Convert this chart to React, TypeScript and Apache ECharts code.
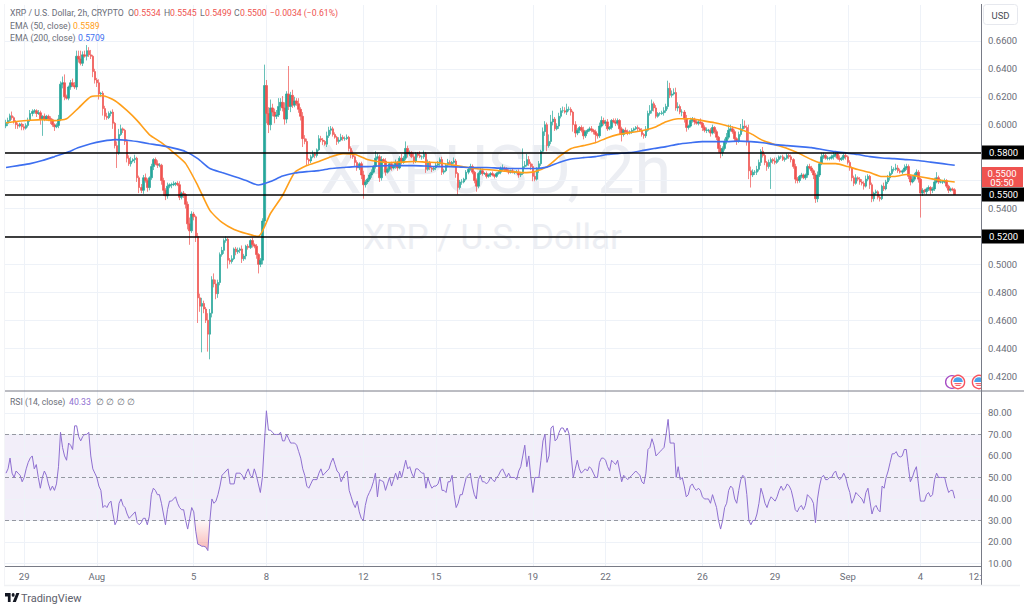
import React, { useEffect, useRef } from "react";
import * as echarts from "echarts";

// Prices are stored in units of 0.0001 USD, one row per day (12 two-hour candles).
const closes = [
  6010,6030,6064,6050,6020,6000,5990,6005,5985,5975,5995,6030,
  6080,6095,6100,6080,6085,6040,6060,6040,6060,6045,6035,6000,
  5985,5995,6040,6290,6300,6200,6190,6270,6300,6280,6270,6490,
  6470,6440,6500,6490,6530,6500,6490,6380,6320,6300,6220,6225,
  6115,6060,6050,6080,6090,6010,5850,5800,5930,5970,5960,5880,
  5760,5720,5740,5750,5760,5620,5550,5530,5620,5600,5550,5620,
  5700,5750,5720,5710,5710,5600,5530,5490,5560,5570,5570,5575,
  5580,5570,5480,5510,5500,5430,5290,5240,5360,5340,5200,4760,
  4700,4720,4680,4600,4500,4650,4890,4860,4790,4870,5070,5100,
  5170,5180,5030,5020,5040,5110,5090,5100,5110,5040,5060,5130,
  5120,5170,5140,5130,5070,5000,5030,5310,6280,6080,6000,6120,
  6090,6060,6070,6130,6160,6120,6040,6220,6130,6210,6140,6170,
  6150,6110,6060,5900,5880,5750,5740,5770,5790,5780,5820,5900,
  5890,5880,5860,5920,5960,5970,5930,5910,5880,5890,5910,5900,
  5900,5910,5830,5790,5770,5730,5690,5720,5640,5570,5590,5610,
  5640,5660,5700,5760,5770,5620,5750,5740,5660,5680,5720,5690,
  5700,5730,5690,5760,5730,5760,5830,5790,5800,5770,5740,5790,
  5780,5770,5770,5790,5680,5730,5690,5680,5690,5710,5720,5750,
  5660,5670,5710,5730,5720,5730,5740,5650,5550,5590,5590,5610,
  5660,5680,5700,5660,5600,5560,5650,5670,5650,5650,5630,5640,
  5650,5640,5630,5650,5660,5680,5690,5680,5670,5660,5670,5660,
  5660,5660,5640,5650,5700,5710,5750,5720,5700,5630,5610,5680,
  5720,5810,5950,6000,5850,5880,6020,6040,5970,5990,6060,6100,
  6100,6090,6110,6110,6090,6000,5940,5960,5980,5960,5920,5950,
  5960,5970,5960,5950,5930,5920,5990,6030,6010,6020,5970,5980,
  6030,6020,6010,6030,5970,5930,5960,5950,5940,5950,5960,5970,
  5980,5970,5960,5930,5920,5960,6080,6100,6150,6120,6060,6080,
  6080,6085,6100,6130,6260,6210,6220,6230,6120,6130,6090,6090,
  6040,5980,5990,6030,6040,6020,6010,6020,6010,5980,5960,5960,
  5960,5940,5980,5950,5910,5830,5800,5830,5880,5910,5960,5970,
  5950,5900,5880,5930,5970,5990,5980,5880,5670,5640,5660,5660,
  5680,5730,5810,5780,5730,5700,5730,5750,5740,5730,5750,5770,
  5770,5750,5760,5780,5770,5750,5700,5610,5600,5630,5640,5620,
  5640,5700,5690,5670,5640,5470,5640,5720,5770,5780,5760,5760,
  5760,5770,5780,5790,5760,5750,5760,5780,5770,5730,5690,5620,
  5580,5620,5610,5590,5580,5560,5610,5630,5570,5470,5510,5520,
  5480,5470,5560,5540,5590,5620,5650,5680,5680,5690,5670,5660,
  5670,5690,5700,5630,5590,5610,5640,5660,5610,5510,5530,5520,
  5540,5550,5530,5540,5590,5620,5590,5590,5590,5600,5560,5530,
  5540,5534,5500,
];

const firstOpen = 5990;

// Wick length above the candle body, same units and rows.
const upperWicks = [
  25,20,15,30,10,12,15,8,10,20,15,20,
  25,15,12,10,20,15,8,20,10,12,15,8,
  10,15,30,20,45,60,15,10,20,30,25,40,
  40,60,25,30,40,25,35,10,20,15,25,10,
  15,20,25,15,10,20,10,30,40,30,10,10,
  15,20,30,10,25,10,15,25,20,30,15,10,
  20,10,15,25,15,10,20,15,25,10,15,20,
  10,15,25,10,15,10,20,45,20,15,10,25,
  30,40,20,15,50,30,25,45,30,20,15,25,
  15,20,10,15,25,10,15,20,10,25,15,10,
  15,10,20,10,15,10,15,20,150,40,45,60,
  30,25,35,60,30,45,40,20,200,25,40,30,
  20,40,15,30,25,20,10,15,25,15,10,25,
  20,15,10,30,25,20,15,15,10,20,25,15,
  15,20,10,15,25,10,15,10,15,30,15,10,
  15,20,10,50,25,15,25,10,20,15,10,15,
  15,20,10,15,30,15,50,20,15,10,30,15,
  15,30,10,25,15,20,10,15,10,15,20,15,
  20,15,10,25,15,10,25,15,10,15,20,10,
  15,10,20,15,10,15,10,20,15,10,15,10,
  10,15,8,10,15,20,25,10,15,10,8,15,
  10,15,20,10,130,30,40,25,15,20,30,15,
  20,10,30,25,15,50,50,60,15,20,25,20,
  30,25,40,20,15,10,25,15,10,15,25,10,
  10,15,20,10,15,10,25,30,20,15,20,10,
  10,15,25,15,10,15,10,20,15,10,15,10,
  10,15,10,15,10,30,20,40,30,15,20,10,
  10,15,25,20,55,40,25,30,35,30,15,20,
  15,30,10,20,15,10,20,15,25,10,15,20,
  10,15,20,10,15,10,25,15,20,30,40,30,
  20,15,10,20,35,50,40,15,120,30,20,15,
  25,20,15,30,15,10,20,15,10,25,15,10,
  10,15,10,15,10,15,10,20,15,10,15,10,
  10,15,20,15,10,15,25,15,30,20,10,15,
  10,15,30,10,15,20,10,15,20,10,15,10,
  15,25,10,15,20,15,25,15,10,15,10,15,
  10,15,10,25,15,20,15,25,15,30,20,15,
  10,25,20,15,10,25,15,20,15,10,15,10,
  10,15,10,15,30,40,15,20,10,15,10,10,
  10,10,11,
];

// Wick length below the candle body, same units and rows.
const lowerWicks = [
  15,20,10,15,12,30,20,10,25,15,10,15,
  10,20,15,25,10,40,120,15,10,20,30,15,
  30,10,20,15,30,25,10,15,20,10,15,20,
  25,15,20,10,30,15,20,40,25,30,40,20,
  50,25,15,10,20,40,20,110,15,10,20,25,
  30,15,20,10,25,30,40,20,25,15,30,20,
  15,25,10,20,15,30,40,30,20,15,25,10,
  15,10,20,15,25,30,40,100,15,25,40,180,
  40,330,30,20,125,180,30,25,40,30,20,15,
  25,15,60,20,15,10,25,15,20,30,15,25,
  15,10,20,15,30,65,20,30,40,70,60,40,
  30,50,20,15,30,25,40,30,25,40,20,15,
  15,25,30,60,20,40,25,15,10,20,15,10,
  15,25,10,20,15,30,15,10,25,15,10,15,
  15,10,20,30,15,25,20,15,30,100,20,15,
  15,20,10,15,10,30,20,15,25,10,15,20,
  10,15,20,10,15,10,15,25,15,10,20,15,
  15,10,20,15,25,10,15,20,10,15,10,15,
  20,15,10,15,10,15,10,30,50,15,20,10,
  10,15,10,15,20,40,15,10,15,10,15,10,
  15,10,15,10,8,15,10,15,10,15,10,8,
  15,10,20,15,10,15,10,15,25,35,15,10,
  25,15,10,30,40,15,20,25,15,10,20,15,
  15,10,20,15,25,50,30,15,20,15,25,15,
  15,10,15,20,60,20,15,10,15,20,15,10,
  15,10,20,15,40,50,15,10,15,10,15,10,
  10,15,10,15,20,15,10,15,20,25,15,10,
  15,10,20,15,20,20,15,10,20,25,15,30,
  25,30,15,10,15,20,10,15,10,25,15,20,
  15,25,10,15,20,30,40,25,15,20,15,10,
  15,20,25,10,15,20,10,30,60,90,15,20,
  20,15,25,15,20,30,15,190,20,15,10,15,
  15,10,15,10,15,20,15,30,20,15,15,10,
  15,20,10,15,30,30,25,15,10,15,10,15,
  15,10,20,15,10,15,10,15,20,15,20,25,
  20,10,15,20,15,25,10,15,30,25,20,15,
  15,20,10,15,10,15,20,10,15,10,15,10,
  15,10,15,20,25,10,15,10,25,175,20,15,
  20,15,30,20,15,10,15,10,15,10,15,20,
  10,10,1,
];

// RSI(14), one reading per candle.
const rsiValues = [
  52,54,59,52,50,53,52,51,48,50,54,57,
  59,60,54,56,50,45,50,53,51,47,44,46,
  44,47,55,71,64,60,58,66,65,63,74,74,
  69,67,69,70,70,71,60,54,52,50,46,44,
  36,37,36,38,39,33,28,30,38,40,37,36,
  33,31,32,33,34,29,28,29,31,31,28,32,
  42,45,44,42,42,38,33,28,35,39,39,40,
  41,38,36,35,35,30,26,31,36,34,25,19,
  18.6,18,18,17.6,16,30,40,38,39,42,46,51,
  52,53,54,47,47,47,52,52,52,51,49,52,
  54,51,50,54,51,47,43,50,66,81,72,72,
  71,70,70,70,71,67,67,70,68,66,66,66,
  65,62,59,54,51,46,45,47,49,49,49,52,
  54,51,52,53,54,57,59,56,53,52,48,50,
  52,53,44,41,38,36,39,34,31,30,37,41,
  43,45,48,52,41,49,48.5,48,44,47,50,46,
  49,52,49,53,50,54,58,54,55,52,50,54,
  54,53,52,52,45,50,47,45,46,46,47,50,
  44,44,43,48,48,51,42,36,38,42,42,46,
  50,51,52,46,42,40,49,51,48,48,47,48,
  50,49,48,50,51,53,54,52,50,52,50,50,
  50,49,53,55,60,65,55,60,50,43,50,50,
  50,58,67,70,57,60,73,74,67,68,71,73,
  73,71,73,70,60,50,54,58,54,52,53,54,
  53,55,54,52,50,50,57,59,59,58,55,53,
  58,57,56,58,53,48,51,50,49,50,51,52,
  53,52,51,48,47,52,63,64,68,65,60,61,
  62,63,64,70,77,66,66,66,50,55,49,50,
  46,41,42,46,47,45,44,45,44,41,40,40,
  40,38,42,39,36,30,26,30,36,38,44,46,
  45,40,38,44,49,51,50,42,30,28,30,30,
  33,38,45,42,38,36,39,41,40,39,41,44,
  46,44,45,47,46,44,40,35,34,36,37,35,
  37,42,41,40,38,29,40,46,50,51,49,49,
  50,50,52,53,50,49,50,52,50,46,43,38,
  40,43,42,41,40,38,43,45,39,33,36,37,
  35,34,46,45,50,53,57,61,61,62,60,59.5,
  60,63,63,55,48,50,53,55,47,39,39,39,
  42,43,41,42,49,52,50,50,50,50,46,43,
  44,44,40.33,
];

// EMA readings taken every six candles or so.
const emaStep = 5.95;
const ema50Readings = [
  6014,6025,6032,6036,6029,6043,6121,6200,6207,6171,6100,6029,5929,5871,5800,5721,
  5564,5386,5300,5250,5221,5200,5364,5493,5657,5707,5736,5771,5793,5786,5750,5736,
  5729,5732,5736,5732,5729,5714,5700,5686,5679,5671,5664,5657,5664,5700,5771,5829,
  5850,5871,5907,5929,5943,5957,5979,6021,6043,6043,6029,6014,5993,5971,5936,5886,
  5857,5829,5793,5750,5721,5721,5700,5679,5657,5629,5629,5643,5629,5614,5600,5589,
];
const ema200Readings = [
  5693,5707,5721,5743,5771,5800,5836,5864,5882,5893,5889,5879,5864,5850,5832,5807,
  5757,5686,5657,5629,5600,5568,5593,5632,5654,5664,5671,5686,5693,5700,5700,5704,
  5707,5707,5707,5704,5700,5700,5696,5693,5693,5689,5686,5686,5686,5696,5729,5754,
  5764,5771,5786,5793,5800,5814,5829,5843,5861,5871,5879,5879,5879,5882,5879,5871,
  5857,5850,5843,5836,5821,5807,5796,5786,5771,5761,5757,5750,5743,5732,5721,5709,
];

const slotCount = 484;
const dayTickIdx = [9, 45, 93, 129, 177, 213, 261, 297, 345, 381, 417, 453];
const dayTickLabels = ["29", "Aug", "5", "8", "12", "15", "19", "22", "26", "29", "Sep", "4"];
const trailingTickIdx = 480;
const trailingTickLabel = "12:";

const priceGridLines = [0.42, 0.44, 0.46, 0.48, 0.5, 0.52, 0.54, 0.56, 0.58, 0.6, 0.62, 0.64, 0.66];
const priceTickLabels = [0.42, 0.44, 0.46, 0.48, 0.5, 0.54, 0.6, 0.62, 0.64, 0.66];
const keyLevels = [0.58, 0.55, 0.52];
const rsiGridLines = [10, 20, 30, 40, 50, 60, 70, 80];
const rsiDashedLines = [30, 50, 70];

const FONT = "Roboto, 'Liberation Sans', sans-serif";
const GRID_C = "#eef2f8";
const TEXT_C = "#6b6e78";
const AXIS_C = "#787b86";
const LEGEND_SIZE = 8.7;

echarts.graphic.registerShape(
  "tvLogo",
  echarts.graphic.extendPath(
    "M0 0H7V9H3.6V3.4H0ZM10.2 0A1.9 1.9 0 1 1 10.2 3.8A1.9 1.9 0 1 1 10.2 0ZM14.2 0H18L13.6 9H9.6Z",
    {}
  )
);

const categories = Array.from({ length: slotCount }, (_, i) => String(i));
const tickLabelAt = new Map<number, string>(dayTickIdx.map((v, i) => [v, dayTickLabels[i]]));
tickLabelAt.set(trailingTickIdx, trailingTickLabel);

const ohlc = closes.map((c, i) => {
  const o = i === 0 ? firstOpen : closes[i - 1];
  const hi = Math.max(o, c) + upperWicks[i];
  const lo = Math.min(o, c) - lowerWicks[i];
  return [o / 1e4, c / 1e4, lo / 1e4, hi / 1e4];
});

function sparse(readings: number[]) {
  const out: (number | null)[] = new Array(slotCount).fill(null);
  readings.forEach((v, k) => {
    out[Math.round(k * emaStep)] = v / 1e4;
  });
  return out;
}

const oversold = rsiValues.map((v, i) => (i >= 93 && i <= 101 ? Math.min(v, 30) : null));

function lineMark(values: any[], lineStyle: any, z: number, grid: number, extra: any = {}) {
  return {
    type: "line",
    xAxisIndex: grid,
    yAxisIndex: grid,
    data: [],
    z,
    silent: true,
    animation: false,
    markLine: {
      z,
      silent: true,
      animation: false,
      symbol: "none",
      precision: 4,
      label: { show: false },
      lineStyle,
      data: values,
      ...extra,
    },
  };
}

function txt(x: number, y: number, text: string, fill: string, size = LEGEND_SIZE, extra: any = {}) {
  return {
    type: "text",
    x,
    y,
    z: 20,
    silent: true,
    style: { text, fill, font: `${size}px ${FONT}`, textVerticalAlign: "middle", ...extra },
  };
}

function flagIcon(cx: number, cy: number) {
  return [
    { type: "circle", z: 21, shape: { cx, cy, r: 6.6 }, style: { fill: "#fff", stroke: "#f7525f", lineWidth: 1.4 } },
    { type: "sector", z: 22, shape: { cx, cy, r: 4.8, startAngle: Math.PI, endAngle: 2 * Math.PI }, style: { fill: "#4ca3ea" } },
    { type: "line", z: 22, shape: { x1: cx - 3.5, y1: cy + 1.6, x2: cx + 3.5, y2: cy + 1.6 }, style: { stroke: "#f7525f", lineWidth: 1 } },
    { type: "line", z: 22, shape: { x1: cx - 2.5, y1: cy + 3.4, x2: cx + 2.5, y2: cy + 3.4 }, style: { stroke: "#f7525f", lineWidth: 1 } },
  ];
}

const RED = "#ef5350";

function buildOption() {
  return {
    animation: false,
    backgroundColor: "#fff",
    grid: [
      { left: 5, top: 5, width: 977, height: 386 },
      { left: 5, top: 391, width: 977, height: 175.5 },
    ],
    xAxis: [
      {
        type: "category",
        gridIndex: 0,
        data: categories,
        axisLine: { show: false },
        axisTick: { show: false },
        axisLabel: { show: false },
        splitLine: { show: false },
      },
      {
        type: "category",
        gridIndex: 1,
        data: categories,
        axisLine: { show: false },
        axisTick: { show: false },
        splitLine: { show: false },
        axisLabel: {
          interval: (i: number) => tickLabelAt.has(i),
          formatter: (_v: string, i: number) => tickLabelAt.get(i) ?? "",
          color: TEXT_C,
          fontFamily: FONT,
          fontSize: 9.5,
          margin: 5,
        },
      },
    ],
    yAxis: [
      {
        type: "value",
        gridIndex: 0,
        position: "right",
        min: 0.4093,
        max: 0.6857,
        axisLine: { show: false },
        axisTick: { show: false },
        splitLine: { show: false },
        axisLabel: {
          customValues: priceTickLabels,
          formatter: (v: number) => v.toFixed(4),
          color: TEXT_C,
          fontFamily: FONT,
          fontSize: 9.5,
          margin: 6,
        },
      },
      {
        type: "value",
        gridIndex: 1,
        position: "right",
        min: 8.6,
        max: 90.2,
        axisLine: { show: false },
        axisTick: { show: false },
        splitLine: { show: false },
        axisLabel: {
          customValues: rsiGridLines,
          formatter: (v: number) => v.toFixed(2),
          color: TEXT_C,
          fontFamily: FONT,
          fontSize: 9.5,
          margin: 6,
        },
      },
    ],
    series: [
      lineMark(
        [...priceGridLines.map((v) => ({ yAxis: v })), ...dayTickIdx.map((i) => ({ xAxis: i }))],
        { color: GRID_C, width: 1, type: "solid" },
        1,
        0
      ),
      lineMark(
        [...rsiGridLines.map((v) => ({ yAxis: v })), ...dayTickIdx.map((i) => ({ xAxis: i }))],
        { color: GRID_C, width: 1, type: "solid" },
        1,
        1
      ),
      {
        type: "line",
        xAxisIndex: 1,
        yAxisIndex: 1,
        data: [],
        z: 1,
        silent: true,
        markArea: {
          z: 1,
          silent: true,
          animation: false,
          itemStyle: { color: "rgba(126,87,194,0.1)" },
          data: [[{ yAxis: 70 }, { yAxis: 30 }]],
        },
      },
      lineMark(
        rsiDashedLines.map((v) => ({ yAxis: v })),
        { color: "#9598a1", width: 1, type: [4, 3] },
        2,
        1
      ),
      {
        name: "XRP / U.S. Dollar",
        type: "candlestick",
        xAxisIndex: 0,
        yAxisIndex: 0,
        z: 3,
        barWidth: 2,
        data: ohlc,
        itemStyle: {
          color: "#26a69a",
          color0: RED,
          borderColor: "#26a69a",
          borderColor0: RED,
          borderWidth: 0.7,
        },
      },
      {
        name: "EMA (50, close)",
        type: "line",
        xAxisIndex: 0,
        yAxisIndex: 0,
        z: 4,
        data: sparse(ema50Readings),
        connectNulls: true,
        showSymbol: false,
        symbol: "none",
        smooth: 0.2,
        lineStyle: { color: "#ff9f1a", width: 1.6 },
      },
      {
        name: "EMA (200, close)",
        type: "line",
        xAxisIndex: 0,
        yAxisIndex: 0,
        z: 4,
        data: sparse(ema200Readings),
        connectNulls: true,
        showSymbol: false,
        symbol: "none",
        smooth: 0.2,
        lineStyle: { color: "#3d6ff0", width: 1.6 },
      },
      lineMark(
        keyLevels.map((v) => ({ yAxis: v })),
        { color: "#000", width: 1.6, type: "solid" },
        5,
        0,
        {
          label: {
            show: true,
            position: "end",
            distance: 0,
            formatter: (p: any) => Number(p.value).toFixed(4),
            color: "#fff",
            backgroundColor: "#000",
            fontFamily: FONT,
            fontSize: 9.5,
            padding: [2, 6, 2, 7],
          },
        }
      ),
      {
        name: "Oversold",
        type: "line",
        xAxisIndex: 1,
        yAxisIndex: 1,
        z: 3,
        data: oversold,
        showSymbol: false,
        symbol: "none",
        lineStyle: { width: 0 },
        areaStyle: {
          origin: 30,
          color: new echarts.graphic.LinearGradient(0, 0, 0, 1, [
            { offset: 0, color: "rgba(239,83,80,0.05)" },
            { offset: 1, color: "rgba(239,83,80,0.6)" },
          ]),
        },
      },
      {
        name: "RSI (14, close)",
        type: "line",
        xAxisIndex: 1,
        yAxisIndex: 1,
        z: 4,
        data: rsiValues,
        showSymbol: false,
        symbol: "none",
        lineStyle: { color: "#8e6fd0", width: 1 },
      },
    ],
    graphic: [
      { ...txt(320, 170, "XRPUSD, 2h", "#eceef3", 66.5), z: 0 },
      { ...txt(363, 237, "XRP / U.S. Dollar", "#eceef3", 35), z: 0 },

      txt(10, 13, "XRP / U.S. Dollar, 2h, CRYPTO", TEXT_C),
      txt(128, 13, "O", TEXT_C),
      txt(134, 13, "0.5534", RED),
      txt(164, 13, "H", TEXT_C),
      txt(170, 13, "0.5545", RED),
      txt(200, 13, "L", TEXT_C),
      txt(205, 13, "0.5499", RED),
      txt(234, 13, "C", TEXT_C),
      txt(240, 13, "0.5500", RED),
      txt(270, 13, "\u22120.0034 (\u22120.61%)", RED),
      txt(10, 26, "EMA (50, close)", TEXT_C),
      txt(73, 26, "0.5589", "#ff9f1a"),
      txt(10, 38, "EMA (200, close)", TEXT_C),
      txt(78, 38, "0.5709", "#3d6ff0"),
      txt(10, 402, "RSI (14, close)", TEXT_C),
      txt(69, 402, "40.33", "#8e6fd0"),
      txt(96, 402, "\u2205", TEXT_C),
      txt(106, 402, "\u2205", TEXT_C),
      txt(117, 402, "\u2205", TEXT_C),
      txt(127, 402, "\u2205", TEXT_C),

      { type: "line", z: 15, shape: { x1: 5, y1: 391, x2: 1024, y2: 391 }, style: { stroke: AXIS_C, lineWidth: 1 } },
      { type: "line", z: 15, shape: { x1: 5, y1: 566.5, x2: 982, y2: 566.5 }, style: { stroke: AXIS_C, lineWidth: 1 } },
      { type: "line", z: 15, shape: { x1: 981.5, y1: 4, x2: 981.5, y2: 585 }, style: { stroke: AXIS_C, lineWidth: 1 } },
      { type: "line", z: 15, shape: { x1: 4, y1: 585.5, x2: 1020, y2: 585.5 }, style: { stroke: "#f0f1f4", lineWidth: 1.5 } },
      { type: "line", z: 15, shape: { x1: 4.5, y1: 4, x2: 4.5, y2: 585 }, style: { stroke: "#f3f4f7", lineWidth: 1 } },

      { type: "rect", z: 16, shape: { x: 983.5, y: 4.5, width: 34, height: 20, r: 3 }, style: { fill: "#fff", stroke: "#e6e8ee", lineWidth: 1 } },
      txt(1000.5, 15, "USD", "#4a4c55", 9.5, { textAlign: "center" }),

      { type: "rect", z: 16, shape: { x: 982, y: 167, width: 41, height: 20 }, style: { fill: RED } },
      txt(1002, 173, "0.5500", "#fff", 9.5, { textAlign: "center" }),
      txt(1002, 182, "05:50", "#fff", 9.5, { textAlign: "center" }),

      { type: "circle", z: 20, shape: { cx: 952, cy: 382, r: 6.4 }, style: { fill: "#fff", stroke: "#a64bc4", lineWidth: 1.3 } },
      ...flagIcon(958, 382),
      ...flagIcon(979, 382),
      { type: "rect", z: 23, shape: { x: 982, y: 373, width: 6, height: 17 }, style: { fill: "#fff" } },
      { type: "line", z: 24, shape: { x1: 981.5, y1: 370, x2: 981.5, y2: 391 }, style: { stroke: AXIS_C, lineWidth: 1 } },

      { type: "tvLogo", z: 20, x: 5, y: 593, scaleX: 0.8, scaleY: 1, style: { fill: "#131722" } },
      txt(21, 598, "TradingView", "#5d606b", 11),
    ],
  };
}

export default function App() {
  const ref = useRef<HTMLDivElement>(null);
  useEffect(() => {
    document.body.style.margin = "0";
    const chart = echarts.init(ref.current!, undefined, { renderer: "svg" });
    chart.setOption(buildOption() as any);
    return () => chart.dispose();
  }, []);
  return <div ref={ref} style={{ width: 1024, height: 607, background: "#fff" }} />;
}
